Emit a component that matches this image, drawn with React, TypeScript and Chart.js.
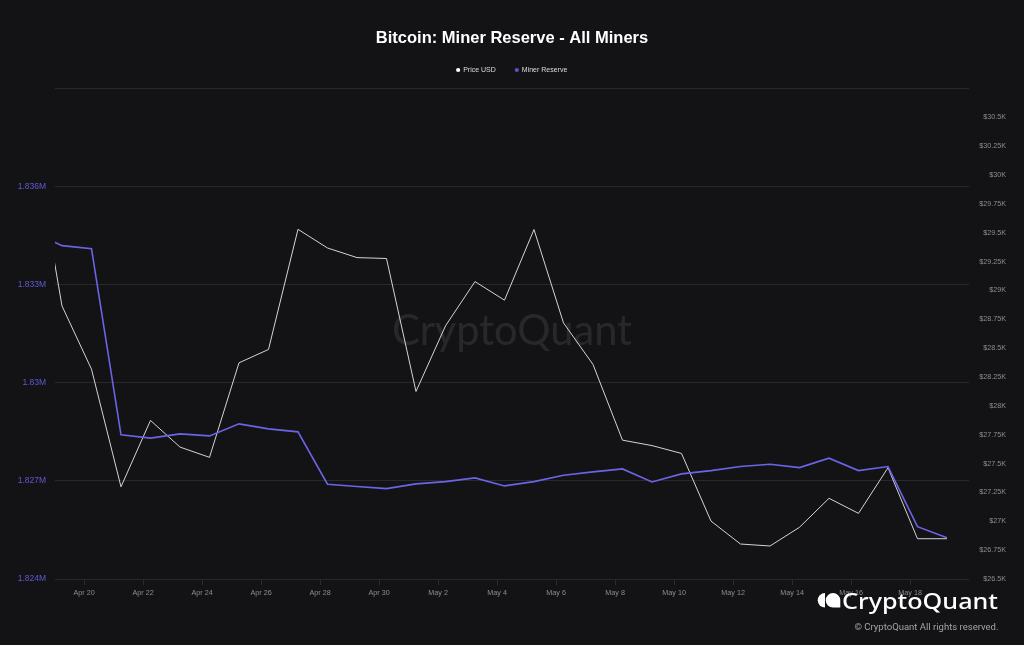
import React, { useEffect, useRef } from 'react';
import { Chart, registerables } from 'chart.js';

Chart.register(...registerables);

// ---- data ----
const dates = [
  'Apr 18', 'Apr 19', 'Apr 20', 'Apr 21', 'Apr 22', 'Apr 23', 'Apr 24', 'Apr 25', 'Apr 26', 'Apr 27',
  'Apr 28', 'Apr 29', 'Apr 30', 'May 1', 'May 2', 'May 3', 'May 4', 'May 5', 'May 6', 'May 7',
  'May 8', 'May 9', 'May 10', 'May 11', 'May 12', 'May 13', 'May 14', 'May 15', 'May 16', 'May 17',
  'May 18', 'May 19',
];

const priceUSD = [
  30355, 28866, 28318, 27299, 27874, 27643, 27554, 28373, 28489, 29530,
  29368, 29285, 29277, 28125, 28693, 29077, 28916, 29528, 28719, 28359,
  27703, 27656, 27588, 27002, 26803, 26786, 26948, 27199, 27069, 27464,
  26849, 26849,
];

const minerReserve = [
  1834622, 1834194, 1834102, 1828408, 1828307, 1828439, 1828377, 1828745, 1828592, 1828500,
  1826899, 1826831, 1826764, 1826908, 1826978, 1827092, 1826847, 1826978, 1827174, 1827275,
  1827367, 1826969, 1827214, 1827315, 1827438, 1827511, 1827407, 1827695, 1827315, 1827438,
  1825601, 1825264,
];

const xTickLabels = [
  'Apr 20', 'Apr 22', 'Apr 24', 'Apr 26', 'Apr 28', 'Apr 30', 'May 2', 'May 4',
  'May 6', 'May 8', 'May 10', 'May 12', 'May 14', 'May 16', 'May 18',
];

const reserveTicks = [1824000, 1827000, 1830000, 1833000, 1836000, 1839000];
const priceTicks = [
  26500, 26750, 27000, 27250, 27500, 27750, 28000, 28250, 28500, 28750,
  29000, 29250, 29500, 29750, 30000, 30250, 30500, 30750,
];

// visible window (in day-index units) and label offset of the date ticks
const X_MIN = 0.763;
const X_MAX = 31.746;
const TICK_SHIFT = -0.25;

const FONT = "'Liberation Sans', Arial, Helvetica, sans-serif";
const BG = '#131316';

const watermark = {
  id: 'watermark',
  beforeDatasetsDraw(chart: any) {
    const ctx = chart.ctx;
    ctx.save();
    ctx.font = "42px Lato, 'Noto Sans', sans-serif";
    ctx.fillStyle = 'rgba(255,255,255,0.09)';
    ctx.textAlign = 'center';
    ctx.textBaseline = 'alphabetic';
    const text = 'CryptoQuant';
    const w = ctx.measureText(text).width;
    ctx.translate(512, 345);
    ctx.scale(240 / w, 1);
    ctx.fillText(text, 0, 0);
    ctx.restore();
  },
};

export default function App() {
  const ref = useRef<HTMLCanvasElement | null>(null);

  useEffect(() => {
    if (!ref.current) return;
    Chart.defaults.font.family = FONT;
    const chart = new Chart(ref.current, {
      type: 'line',
      data: {
        datasets: [
          {
            label: 'Miner Reserve',
            data: minerReserve.map((v, i) => ({ x: i, y: v })),
            borderColor: '#6b64e6',
            backgroundColor: '#5a52cc',
            borderWidth: 1.6,
            pointRadius: 0,
            tension: 0,
            yAxisID: 'y',
          },
          {
            label: 'Price USD',
            data: priceUSD.map((v, i) => ({ x: i, y: v })),
            borderColor: '#d4d4d6',
            backgroundColor: '#ffffff',
            borderWidth: 1,
            pointRadius: 0,
            tension: 0,
            yAxisID: 'y1',
          },
        ],
      },
      plugins: [watermark],
      options: {
        responsive: false,
        animation: false,
        layout: { padding: { top: 5, right: 18, bottom: 46, left: 0 } },
        plugins: {
          title: {
            display: true,
            text: 'Bitcoin: Miner Reserve - All Miners',
            color: '#ffffff',
            fullSize: false,
            font: { size: 16.5, weight: 'bold', family: FONT, lineHeight: 1 },
            padding: { top: 25.5, bottom: 0 },
          },
          subtitle: {
            display: true,
            text: '',
            position: 'top',
            weight: 500,
            fullSize: false,
            padding: 0,
            font: { size: 5, lineHeight: 1 },
          } as any,
          legend: {
            display: true,
            position: 'top',
            fullSize: false,
            reverse: true,
            labels: {
              usePointStyle: true,
              pointStyle: 'circle',
              boxWidth: 3,
              boxHeight: 3,
              padding: 19.5,
              color: '#dcdcdc',
              font: { size: 7, family: FONT },
              generateLabels: (c: any) =>
                (Chart.defaults.plugins.legend.labels.generateLabels as any)(c).map((l: any) => ({
                  ...l,
                  lineWidth: 0,
                  strokeStyle: 'rgba(0,0,0,0)',
                })),
            },
          },
          tooltip: { enabled: false },
        },
        scales: {
          x: {
            type: 'linear',
            min: X_MIN,
            max: X_MAX,
            afterBuildTicks: (s: any) => {
              s.ticks = xTickLabels.map((l) => ({ value: dates.indexOf(l) + TICK_SHIFT }));
            },
            afterFit: (s: any) => {
              s.height = 20;
            },
            ticks: {
              autoSkip: false,
              maxRotation: 0,
              padding: 4,
              color: '#8c8c93',
              font: { size: 7.2, family: FONT },
              callback: (_v: any, i: number) => xTickLabels[i],
            },
            grid: { drawOnChartArea: false, color: '#2b2b31', tickLength: 6 },
            border: { display: false },
          },
          y: {
            type: 'linear',
            position: 'left',
            min: reserveTicks[0],
            max: reserveTicks[reserveTicks.length - 1],
            afterBuildTicks: (s: any) => {
              s.ticks = reserveTicks.map((v) => ({ value: v }));
            },
            afterFit: (s: any) => {
              s.width = 55;
            },
            ticks: {
              padding: 9,
              color: '#6159d2',
              font: { size: 8.5, family: FONT },
              callback: (v: any) =>
                v === reserveTicks[reserveTicks.length - 1] ? '' : `${+(Number(v) / 1e6).toFixed(3)}M`,
            },
            grid: { color: '#28282d', drawTicks: false, lineWidth: 1 },
            border: { display: false },
          },
          y1: {
            type: 'linear',
            position: 'right',
            min: priceTicks[0],
            max: priceTicks[priceTicks.length - 1],
            afterBuildTicks: (s: any) => {
              s.ticks = priceTicks.map((v) => ({ value: v }));
            },
            afterFit: (s: any) => {
              s.width = 37;
            },
            ticks: {
              crossAlign: 'far',
              color: '#8c8c93',
              font: { size: 7.2, family: FONT },
              callback: (v: any) =>
                v === priceTicks[priceTicks.length - 1] ? '' : `$${Number(v) / 1000}K`,
            },
            grid: { display: false, drawTicks: false },
            border: { display: false },
          },
        },
      } as any,
    });
    return () => chart.destroy();
  }, []);

  return (
    <div
      style={{
        position: 'fixed',
        left: 0,
        top: 0,
        width: 1024,
        height: 645,
        background: BG,
        overflow: 'hidden',
      }}
    >
      <canvas ref={ref} width={1024} height={645} style={{ display: 'block' }} />
      <svg
        width={1024}
        height={645}
        style={{ position: 'absolute', left: 0, top: 0, pointerEvents: 'none' }}
      >
        <path d="M 825 593 A 7.3 7.3 0 0 0 825 607.6 Z" fill="#ffffff" />
        <path d="M 833 607.6 A 7.3 7.3 0 1 1 840.3 600.3 L 840.3 607.6 Z" fill="#ffffff" />
        <text
          x={842}
          y={608.5}
          fill="#ffffff"
          fontFamily="'Noto Sans', 'Open Sans', sans-serif"
          fontWeight={500}
          fontSize={21}
          textLength={156}
          lengthAdjust="spacingAndGlyphs"
        >
          CryptoQuant
        </text>
        <text
          x={854.5}
          y={630}
          fill="#a3a3aa"
          fontFamily="Roboto, 'Noto Sans', sans-serif"
          fontSize={9.4}
          textLength={144}
          lengthAdjust="spacingAndGlyphs"
        >
          © CryptoQuant All rights reserved.
        </text>
      </svg>
    </div>
  );
}
